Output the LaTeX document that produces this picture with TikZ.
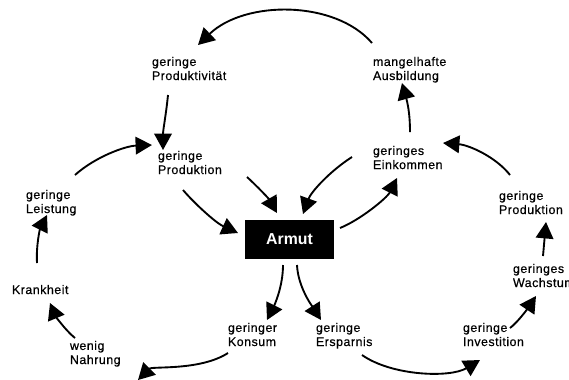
\documentclass[tikz,border=0pt]{standalone}
\usepackage{fontspec}
\setmainfont{Liberation Sans}
\newfontfamily\weitfont[LetterSpace=4,FakeBold=0.5]{Liberation Sans}
\usepackage{tikz}
\usetikzlibrary{arrows.meta}
\usetikzlibrary{calc}

\begin{document}
\begin{tikzpicture}[x=0.03cm,y=-0.03cm,
    txt/.style={anchor=base west, align=left, inner sep=0pt, outer sep=0pt, font=\weitfont\fontsize{10.6}{12}\selectfont},
    pfeil/.style={line width=1.6pt, -{Triangle[length=14pt,width=15pt]}}]
     \useasboundingbox (0,0) rectangle (569,379);
     % the texts
     \node[txt] (prodk) at (152,80) {geringe\\Produktivität};
     \node[txt] (ausb) at (373,80) {mangelhafte\\Ausbildung};
     \node[txt] (prodm) at (158,174) {geringe\\Produktion};
     \node[txt] (eink) at (373,169) {geringes\\Einkommen};
     \node[txt] (leist) at (26,213) {geringe\\Leistung};
     \node[txt] (krank) at (12,294) {Krankheit};
     \node[txt] (nahr) at (70,364) {wenig\\Nahrung};
     \node[txt] (kons) at (228,346) {geringer\\Konsum};
     \node[txt] (spar) at (316,346) {geringe\\Ersparnis};
     \node[txt] (inv) at (463,346) {geringe\\Investition};
     \node[txt] (wachs) at (513,287) {geringes\\Wachstum};
     \node[txt] (prodr) at (499,214) {geringe\\Produktion};
     \node[fill=black, text=white, inner sep=0pt, minimum width=2.67cm, minimum height=1.17cm, font=\fontsize{13.5}{15}\selectfont\bfseries] (armut) at (289.5,239.5) {Armut};
     % the arrows
     \draw[pfeil] ($(ausb.base west)+(-1,-37)$) .. controls +(-37,-43) and +(47,-45) .. ($(prodk.base west)+(46,-35)$);
     \draw[pfeil] ($(prodk.base west)+(16,15)$) .. controls +(-2,20) and +(0,-20) .. ($(prodm.base west)+(5,-24)$);
     \draw[pfeil] ($(leist.base west)+(49,-38)$) .. controls +(20,-18) and +(-27,1) .. ($(prodm.base west)+(-6,-29)$);
     \draw[pfeil] ($(krank.base west)+(25,-31)$) .. controls +(-1,-18) and +(-7,14) .. ($(leist.base west)+(21,2)$);
     \draw[pfeil] ($(nahr.base west)+(5,-26)$) .. controls +(-10,-8) and +(5,12) .. ($(krank.base west)+(38,9)$);
     \draw[pfeil] ($(kons.base west)+(0,7)$) .. controls +(-28,18) and +(14,-14) .. ($(nahr.base west)+(68,16)$);
     \draw[pfeil] ($(armut.center)+(-6.5,25.5)$) .. controls +(0,22) and +(7,-14) .. ($(kons.base west)+(39,-26)$);
     \draw[pfeil] ($(armut.center)+(7.5,25.5)$) .. controls +(1,22) and +(-9,-14) .. ($(spar.base west)+(5,-26)$);
     \draw[pfeil] ($(spar.base west)+(46,9)$) .. controls +(30,21) and +(-30,18) .. ($(inv.base west)+(17,14)$);
     \draw[pfeil] ($(inv.base west)+(47,-18)$) .. controls +(8,-6) and +(-8,12) .. ($(wachs.base west)+(23,9)$);
     \draw[pfeil] ($(wachs.base west)+(30,-31)$) -- ($(prodr.base west)+(47,8)$);
     \draw[pfeil] ($(prodr.base west)+(11,-39)$) .. controls +(-14,-18) and +(26,2) .. ($(eink.base west)+(70,-26)$);
     \draw[pfeil] ($(eink.base west)+(37,-37)$) .. controls +(0,-20) and +(5,18) .. ($(ausb.base west)+(29,3)$);
     \draw[pfeil] ($(prodm.base west)+(25,16)$) .. controls +(12,14) and +(-22,-10) .. ($(armut.center)+(-51.5,-6.5)$);
     \draw[pfeil] ($(prodm.base west)+(89,3)$) .. controls +(12,11) and +(-8,-14) .. ($(armut.center)+(-12.5,-26.5)$);
     \draw[pfeil] ($(eink.base west)+(-21,-12)$) .. controls +(-22,14) and +(8,-22) .. ($(armut.center)+(13.5,-25.5)$);
     \draw[pfeil] ($(armut.center)+(50.5,-11.5)$) .. controls +(20,-8) and +(-10,20) .. ($(eink.base west)+(24,9)$);
\end{tikzpicture}
\end{document}
